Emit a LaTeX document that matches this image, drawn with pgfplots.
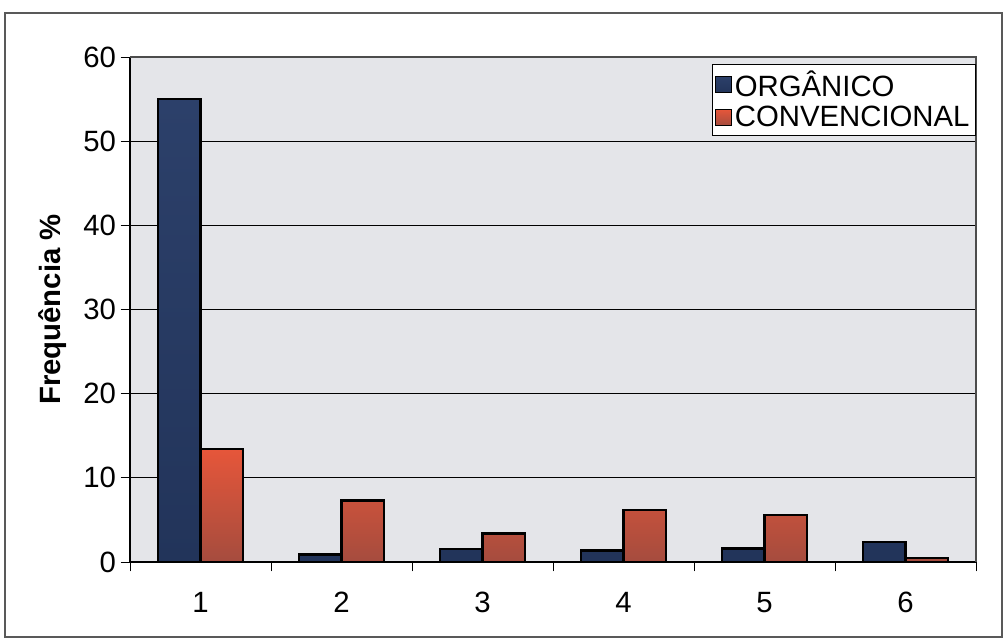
\documentclass[border=0pt]{standalone}
\usepackage{pgfplots}
\pgfplotsset{compat=1.18}
\usepackage{fontspec}
\setmainfont{Liberation Sans}
\definecolor{navy}{RGB}{34,52,90}
\definecolor{navytop}{RGB}{44,64,106}
\definecolor{redtop}{RGB}{230,86,58}
\definecolor{redbot}{RGB}{165,76,62}
\definecolor{marble}{RGB}{228,229,233}
\begin{document}
\begin{tikzpicture}
\useasboundingbox (0,0) rectangle (753pt,-479.25pt);
\draw[gray!70!black, line width=1pt] (3.75pt,-9.75pt) rectangle (751.5pt,-477.75pt);
\coordinate (O) at (97.5pt,-421.5pt);
\begin{axis}[
  at={(O)}, anchor=south west,
  scale only axis,
  width=634.5pt, height=378.75pt,
  xmin=0.5, xmax=6.5, ymin=0, ymax=60,
  ybar=0pt, bar width=0.3,
  axis background/.style={fill=marble},
  axis lines*=left,
  axis line style={black, line width=0.8pt},
  xtick={1,...,6},
  xticklabels={1,2,3,4,5,6},
  minor xtick={0.5,1.5,...,6.5},
  major x tick style={draw=none},
  minor tick length=7pt,
  ytick={0,10,...,60},
  major tick length=7pt,
  tick align=outside,
  tick style={black, line width=0.6pt},
  ymajorgrids,
  grid style={black, line width=0.6pt},
  /pgf/number format/assume math mode=true,
  tick label style={font=\fontsize{22}{26}\selectfont},
  xticklabel style={yshift=-12pt},
  ylabel={\bfseries Frequência \%},
  ylabel style={font=\fontsize{22}{26}\selectfont, at={(axis description cs:-0.092,0.5)}, anchor=center},
  legend style={at={(0.999,0.987)}, anchor=north east, draw=black, fill=white,
    font=\fontsize{22}{26}\selectfont, inner xsep=2pt, inner ysep=3pt, row sep=2pt,
    legend cell align=left},
  legend image code/.code={\draw[#1, draw=black, line width=0.8pt] (0pt,-6pt) rectangle (12pt,6pt);},
  clip=false,
]
\addplot[draw=black, line width=1.8pt, top color=navytop, bottom color=navy] coordinates {
(1,55) (2,0.9) (3,1.55) (4,1.35) (5,1.6) (6,2.35)};
\addplot[draw=black, line width=1.8pt, top color=redtop, bottom color=redbot] coordinates {
(1,13.4) (2,7.3) (3,3.4) (4,6.2) (5,5.6) (6,0.5)};
\legend{ORGÂNICO, CONVENCIONAL}
\draw[gray!60!black, line width=0.8pt] (axis cs:0.5,60) -- (axis cs:6.5,60) -- (axis cs:6.5,0);
\end{axis}
\end{tikzpicture}
\end{document}
